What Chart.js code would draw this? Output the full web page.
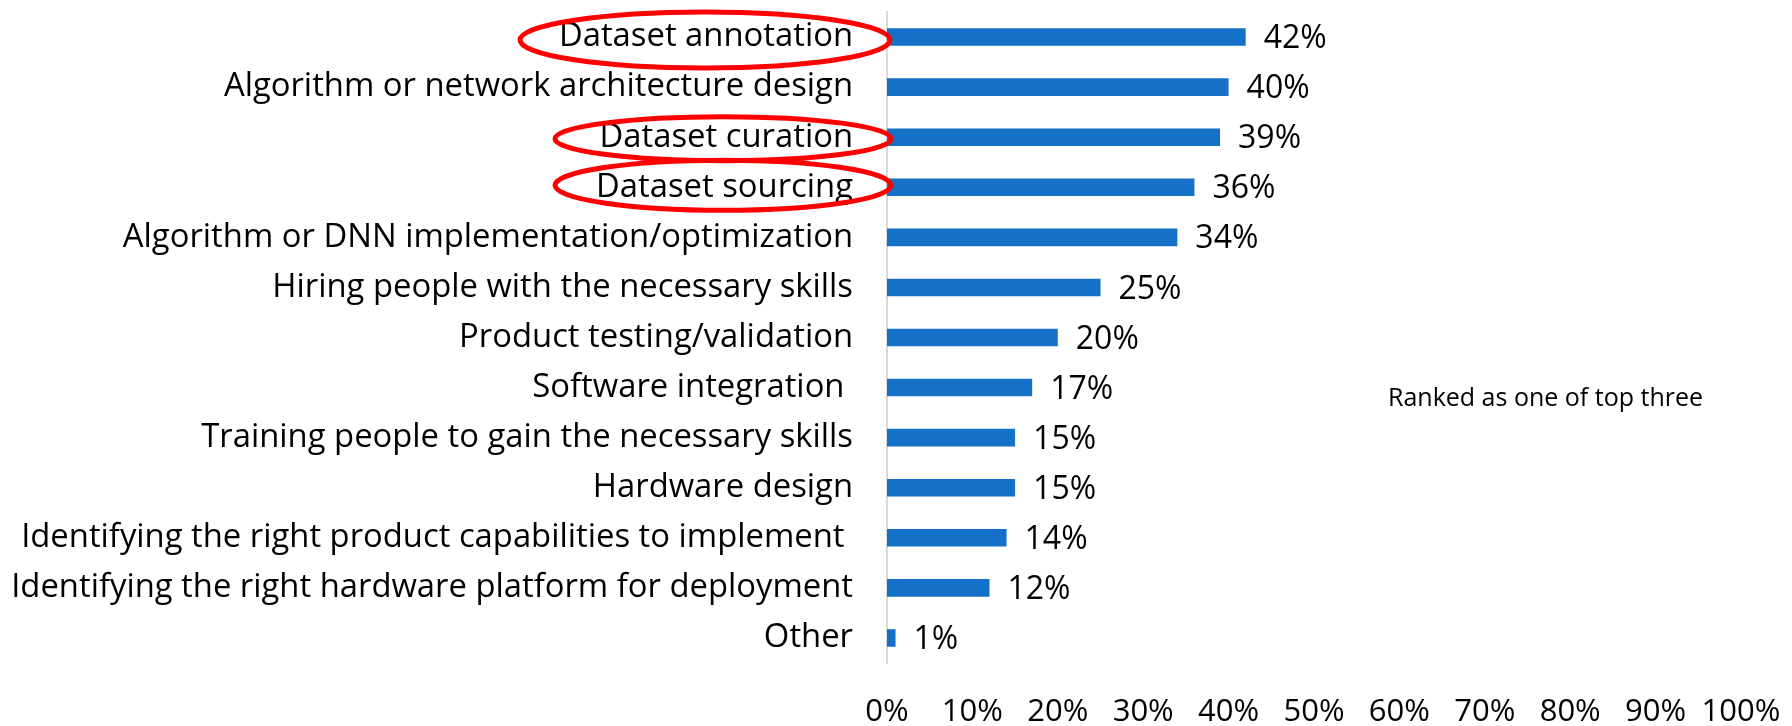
<!DOCTYPE html>
<html>
<head>
<meta charset="utf-8">
<script src="https://cdn.jsdelivr.net/npm/chart.js@4"></script>
<style>
html,body{margin:0;padding:0;background:#fff;}
#wrap{width:1792px;height:726px;position:relative;}
</style>
</head>
<body>
<div id="wrap"><canvas id="c"></canvas></div>
<script>
const categories = [
  "Dataset annotation",
  "Algorithm or network architecture design",
  "Dataset curation",
  "Dataset sourcing",
  "Algorithm or DNN implementation/optimization",
  "Hiring people with the necessary skills",
  "Product testing/validation",
  "Software integration ",
  "Training people to gain the necessary skills",
  "Hardware design",
  "Identifying the right product capabilities to implement ",
  "Identifying the right hardware platform for deployment",
  "Other"
];
const values = [42, 40, 39, 36, 34, 25, 20, 17, 15, 15, 14, 12, 1];
const seriesName = "Ranked as one of top three";
const highlighted = [0, 2, 3];
const xTicks = [0, 10, 20, 30, 40, 50, 60, 70, 80, 90, 100];

Chart.defaults.font.family = "'Open Sans', sans-serif";
Chart.defaults.color = "#000";

const valueLabels = {
  id: 'valueLabels',
  afterDatasetsDraw(chart) {
    const ctx = chart.ctx;
    const meta = chart.getDatasetMeta(0);
    ctx.save();
    ctx.font = "32px 'Open Sans', sans-serif";
    ctx.fillStyle = "#000";
    ctx.textAlign = "left";
    ctx.textBaseline = "middle";
    meta.data.forEach((bar, i) => {
      ctx.fillText(values[i] + "%", bar.x + 18, bar.y + 2);
    });
    ctx.restore();
  }
};

const ellipses = {
  id: 'ellipses',
  afterDraw(chart) {
    const ctx = chart.ctx;
    const y = chart.scales.y;
    const left = chart.chartArea.left;
    ctx.save();
    ctx.strokeStyle = "#ff0000";
    ctx.lineWidth = 5;
    highlighted.forEach((idx) => {
      const cy = y.getPixelForValue(idx);
      let cx, rx, ry, dy;
      if (idx === 0) { cx = left - 182; rx = 185; ry = 28; dy = 3; }
      else if (idx === 2) { cx = left - 164; rx = 168; ry = 22; dy = 1.5; }
      else { cx = left - 164; rx = 168; ry = 25; dy = -2; }
      ctx.beginPath();
      ctx.ellipse(cx, cy + dy, rx, ry, 0, 0, Math.PI * 2);
      ctx.stroke();
    });
    ctx.restore();
  }
};

const seriesText = {
  id: 'seriesText',
  afterDraw(chart) {
    const ctx = chart.ctx;
    ctx.save();
    ctx.font = "25px 'Open Sans', sans-serif";
    ctx.fillStyle = "#000";
    ctx.textAlign = "left";
    ctx.textBaseline = "middle";
    ctx.fillText(seriesName, 1388, 399);
    ctx.restore();
  }
};

new Chart(document.getElementById('c'), {
  type: 'bar',
  data: {
    labels: categories,
    datasets: [{
      label: seriesName,
      data: values,
      backgroundColor: '#1570c8',
      borderWidth: 0,
      barPercentage: 0.9,
      categoryPercentage: 0.39
    }]
  },
  options: {
    indexAxis: 'y',
    responsive: true,
    maintainAspectRatio: false,
    animation: false,
    layout: { padding: { top: 12, right: 51, bottom: 0, left: 0 } },
    plugins: {
      legend: { display: false },
      tooltip: { enabled: false }
    },
    scales: {
      x: {
        min: 0, max: 100,
        afterBuildTicks(scale) { scale.ticks = xTicks.map(v => ({ value: v })); },
        grid: { display: false, drawTicks: false },
        border: { display: false },
        ticks: {
          padding: 31,
          font: { size: 31 },
          color: '#000',
          maxRotation: 0,
          autoSkip: false,
          callback: (v) => v + '%'
        },
        afterFit(scale) { scale.height = 63; scale.paddingLeft = 0; scale.paddingRight = 0; }
      },
      y: {
        grid: { display: false, drawTicks: false },
        border: { display: true, color: '#d9d9d9', width: 2 },
        ticks: {
          padding: 34,
          font: { size: 32.8 },
          color: '#000',
          autoSkip: false
        },
        afterFit(scale) { scale.width = 887; scale.paddingTop = 0; scale.paddingBottom = 0; }
      }
    }
  },
  plugins: [valueLabels, ellipses, seriesText]
});
</script>
</body>
</html>
